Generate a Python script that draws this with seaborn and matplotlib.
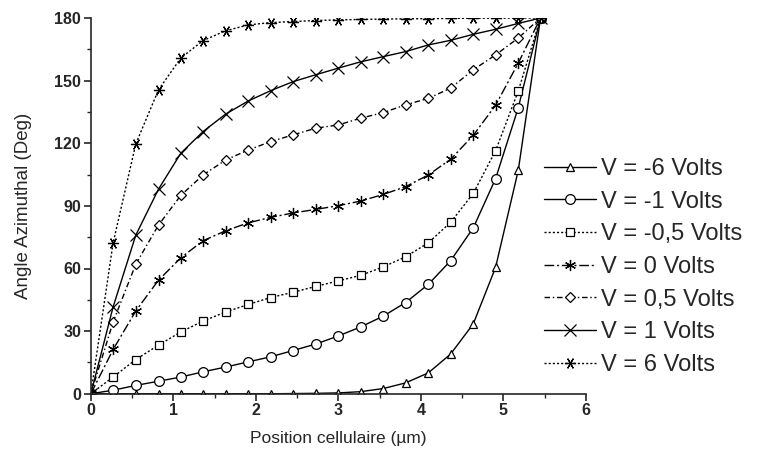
"""Azimuthal angle profiles across the cell for several applied voltages."""

import matplotlib as mpl
mpl.use("Agg")
import matplotlib.pyplot as plt
import pandas as pd
import seaborn as sns

# ── data ─────────────────────────────────────────────────────────────────────
position = [0.0, 0.27, 0.545, 0.82, 1.09, 1.36, 1.635, 1.91, 2.18, 2.45, 2.725,
            3.0, 3.27, 3.545, 3.815, 4.09, 4.36, 4.635, 4.905, 5.18, 5.45]

v_m6 = [0, 0, 0, 0, 0, 0, 0, 0, 0, 0.1, 0.2,
        0.4, 1.0, 2.5, 5.2, 10.0, 19.0, 33.5, 60.5, 107, 180]
v_m1 = [0, 1.7, 4.0, 6.0, 8.0, 10.5, 12.8, 15.3, 17.7, 20.7, 23.8,
        27.7, 32.0, 37.2, 43.7, 52.4, 63.7, 79.5, 103, 137, 180]
v_m05 = [0, 8.0, 16.4, 23.3, 29.6, 34.8, 39.2, 42.8, 46.1, 48.6, 51.4,
         54.1, 56.7, 60.8, 65.6, 72.3, 82.1, 96.0, 116.4, 145, 180]
v_0 = [0, 21.2, 39.7, 54.4, 65.1, 73.3, 78.1, 81.9, 84.5, 86.6, 88.3,
       90.1, 92.3, 95.5, 99.2, 104.8, 112.3, 123.8, 138.2, 158.4, 180]
v_05 = [0, 34.4, 62.1, 80.8, 95.0, 104.8, 112.0, 116.8, 120.8, 124.0, 127.2,
        128.8, 132.0, 134.7, 138.4, 141.5, 146.4, 155.2, 162.3, 170.4, 180]
v_1 = [0, 41.6, 76.0, 98.0, 115.2, 125.6, 134.0, 140.3, 145.2, 149.5, 152.8,
       156.0, 159.0, 161.5, 163.9, 167.1, 169.3, 172.2, 174.6, 177.4, 180]
v_6 = [0, 72.3, 119.7, 145.6, 160.8, 169.2, 173.9, 176.7, 177.8, 178.3, 178.8,
       179.1, 179.3, 179.5, 179.6, 179.7, 179.8, 179.9, 179.9, 180, 180]

labels = ["V = -6 Volts", "V = -1 Volts", "V = -0,5 Volts", "V = 0 Volts",
          "V = 0,5 Volts", "V = 1 Volts", "V = 6 Volts"]
series = [v_m6, v_m1, v_m05, v_0, v_05, v_1, v_6]

# ── style ────────────────────────────────────────────────────────────────────
sns.set_theme(style="ticks")
plt.rcParams.update({
    "font.family": ["Liberation Sans", "DejaVu Sans"],
    "axes.spines.top": False, "axes.spines.right": False,
    "axes.linewidth": 1.2,
    "xtick.major.size": 5, "ytick.major.size": 5,
    "xtick.minor.size": 3, "ytick.minor.size": 3,
    "xtick.major.width": 1.2, "ytick.major.width": 1.2,
    "xtick.minor.width": 1.0, "ytick.minor.width": 1.0,
})

line_styles = ["-", "-", (0, (1.5, 1.5)), (0, (7, 2, 1.5, 2)),
               (0, (4, 2, 1, 2)), "-", (0, (1.5, 1.5))]
markers = ["^", "o", "s", (6, 2, 0), "D", "x", (6, 2, 90)]
msizes = [6, 7, 6, 8, 5.5, 8, 8]

fig, ax = plt.subplots(figsize=(7.57, 4.5), dpi=100)
fig.subplots_adjust(left=0.12, right=0.774, bottom=0.125, top=0.96)

for lab, ys, ls, mk, ms in zip(labels, series, line_styles, markers, msizes):
    df = pd.DataFrame({"x": position, "y": ys})
    sns.lineplot(data=df, x="x", y="y", ax=ax, color="black", linestyle=ls,
                 linewidth=1.0, marker=mk, markersize=ms,
                 markerfacecolor="white", markeredgecolor="black",
                 markeredgewidth=0.9, label=lab)

ax.set_xlim(0, 6)
ax.set_ylim(0, 180)
ax.set_xticks(range(0, 7))
ax.set_yticks(range(0, 181, 30))
ax.set_xticks([0.5 + i for i in range(6)], minor=True)
ax.set_yticks([15 + 30 * i for i in range(6)], minor=True)
ax.tick_params(axis="both", which="major", labelsize=11.5, pad=2)
for t in ax.get_xticklabels() + ax.get_yticklabels():
    t.set_fontweight("bold")

ax.set_xlabel("Position cellulaire (µm)", fontsize=12.5, labelpad=9)
ax.set_ylabel("Angle Azimuthal (Deg)", fontsize=13.5, labelpad=16)

ax.legend(loc="upper left", bbox_to_anchor=(0.703, 0.675),
          bbox_transform=fig.transFigure, frameon=False, fontsize=17,
          handlelength=2.2, handletextpad=0.2, labelspacing=0.45,
          borderpad=0)

fig.savefig("out.png", dpi=100)
